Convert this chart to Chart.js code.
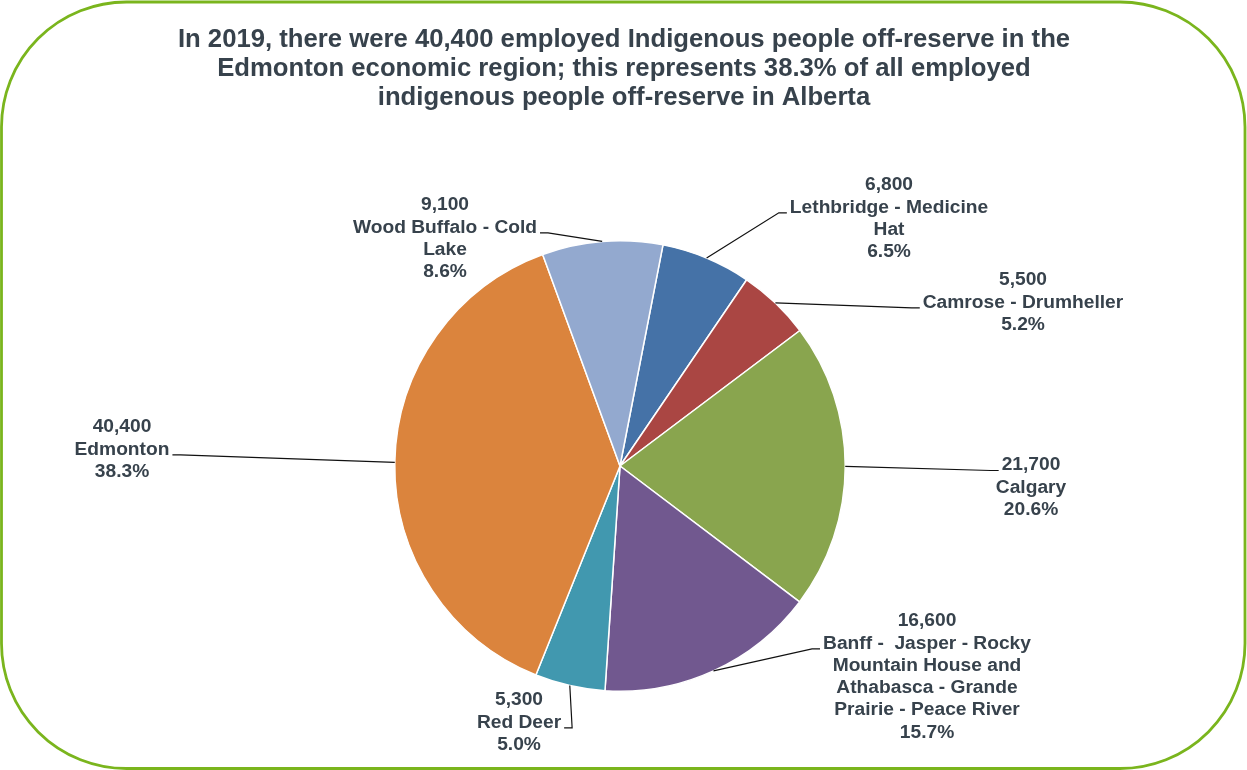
<!DOCTYPE html>
<html>
<head>
<meta charset="utf-8">
<title>Employed Indigenous people off-reserve by economic region</title>
<script src="https://cdn.jsdelivr.net/npm/chart.js@4.4.1/dist/chart.umd.min.js"></script>
<style>
  html, body { margin: 0; padding: 0; background: #fff; }
  canvas { display: block; }
</style>
</head>
<body>
<canvas id="regionChart" width="1247" height="770"></canvas>
<script>
// Employed Indigenous people off-reserve, Alberta economic regions, 2019
const regions = [
    ['Lethbridge - Medicine', 'Hat'],
    ['Camrose - Drumheller'],
    ['Calgary'],
    ['Banff -  Jasper - Rocky', 'Mountain House and', 'Athabasca - Grande', 'Prairie - Peace River'],
    ['Red Deer'],
    ['Edmonton'],
    ['Wood Buffalo - Cold', 'Lake']
];
const employed = [6800, 5500, 21700, 16600, 5300, 40400, 9100];
const sliceColors = ['#4572A7', '#AA4643', '#89A54E', '#71588F', '#4198AF', '#DB843D', '#93A9CF'];
const titleLines = [
    'In 2019, there were 40,400 employed Indigenous people off-reserve in the',
    'Edmonton economic region; this represents 38.3% of all employed',
    'indigenous people off-reserve in Alberta'
];

const FONT_FAMILY = '"Liberation Sans", Arial, Helvetica, sans-serif';
const TEXT_COLOR = '#37424C';
const TITLE_SIZE = 25.7;
const LABEL_SIZE = 19.2;
const LINE_H = 22.3;

// where each callout sits, relative to the pie centre; `line` is the row the leader meets
const labelLayout = [
    { dx: 269, dy: -281, line: 1, side: 'left' },
    { dx: 403, dy: -186, line: 1, side: 'left' },
    { dx: 411, dy: -1, line: 0, side: 'left' },
    { dx: 307, dy: 155, line: 1, side: 'left' },
    { dx: -101, dy: 234, line: 1, side: 'right' },
    { dx: -498, dy: -39, line: 1, side: 'right' },
    { dx: -175, dy: -261, line: 1, side: 'right' }
];

// rounded green frame and the three-line heading
const framePlugin = {
    id: 'frame',
    beforeDraw(chart) {
        const ctx = chart.ctx;
        ctx.save();
        ctx.fillStyle = '#fff';
        ctx.fillRect(0, 0, chart.width, chart.height);
        ctx.beginPath();
        ctx.roundRect(1.5, 2, chart.width - 3.5, chart.height - 3.5, 125);
        ctx.lineWidth = 2.8;
        ctx.strokeStyle = '#7AB51D';
        ctx.stroke();

        ctx.font = `bold ${TITLE_SIZE}px ${FONT_FAMILY}`;
        ctx.fillStyle = TEXT_COLOR;
        ctx.textAlign = 'center';
        ctx.textBaseline = 'middle';
        const cx = (chart.chartArea.left + chart.chartArea.right) / 2 + 4;
        titleLines.forEach((t, k) => ctx.fillText(t, cx, 40 + k * 28.8));
        ctx.restore();
    }
};

// value / name / percent callouts with leader lines
const calloutPlugin = {
    id: 'callouts',
    afterDatasetsDraw(chart) {
        const ctx = chart.ctx;
        const meta = chart.getDatasetMeta(0);
        const total = employed.reduce((a, b) => a + b, 0);
        ctx.save();
        ctx.font = `bold ${LABEL_SIZE}px ${FONT_FAMILY}`;
        ctx.textAlign = 'center';
        ctx.textBaseline = 'middle';
        meta.data.forEach((arc, i) => {
            const { x, y, startAngle, endAngle, outerRadius } =
                arc.getProps(['x', 'y', 'startAngle', 'endAngle', 'outerRadius'], true);
            const mid = (startAngle + endAngle) / 2;
            const lay = labelLayout[i];
            const lines = [
                employed[i].toLocaleString('en-US'),
                ...regions[i],
                (employed[i] / total * 100).toFixed(1) + '%'
            ];
            const cx = x + lay.dx;
            const top = y + lay.dy;

            ctx.fillStyle = TEXT_COLOR;
            lines.forEach((t, k) => ctx.fillText(t, cx, top + k * LINE_H));

            const w = ctx.measureText(lines[lay.line]).width;
            const ly = top + lay.line * LINE_H + 5.5;
            const dir = lay.side === 'left' ? -1 : 1;
            const edge = cx + dir * (w / 2 + 3);
            const knee = edge + dir * 8;
            ctx.beginPath();
            ctx.moveTo(x + Math.cos(mid) * outerRadius, y + Math.sin(mid) * outerRadius);
            ctx.lineTo(knee, ly);
            ctx.lineTo(edge, ly);
            ctx.lineWidth = 1.2;
            ctx.strokeStyle = '#111';
            ctx.stroke();
        });
        ctx.restore();
    }
};

new Chart(document.getElementById('regionChart'), {
    type: 'pie',
    data: {
        labels: regions,
        datasets: [{
            data: employed,
            backgroundColor: sliceColors,
            borderColor: '#fff',
            borderWidth: 1.5
        }]
    },
    options: {
        responsive: false,
        animation: false,
        rotation: 11,
        layout: {
            padding: { top: 240, left: 394, right: 401, bottom: 78 }
        },
        plugins: {
            legend: { display: false },
            tooltip: { enabled: false },
            title: { display: false }
        }
    },
    plugins: [framePlugin, calloutPlugin]
});
</script>
</body>
</html>
